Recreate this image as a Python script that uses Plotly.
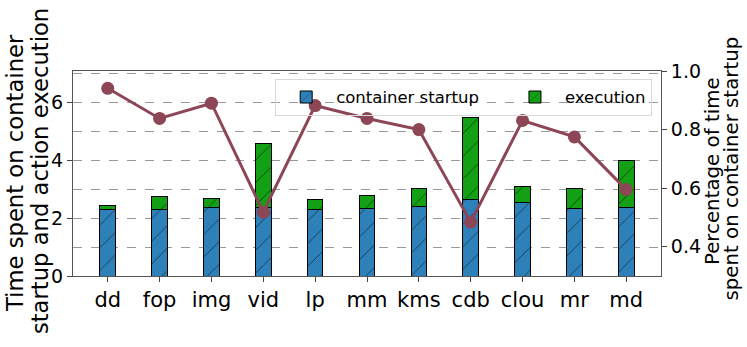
import plotly.graph_objects as go

apps = ["dd", "fop", "img", "vid", "lp", "mm", "kms", "cdb", "clou", "mr", "md"]
startup = [2.30, 2.30, 2.37, 2.37, 2.30, 2.33, 2.41, 2.64, 2.56, 2.33, 2.37]
total = [2.45, 2.76, 2.67, 4.60, 2.64, 2.80, 3.03, 5.50, 3.11, 3.03, 4.00]
execution = [t - s for t, s in zip(total, startup)]
startup_pct = [0.941, 0.838, 0.890, 0.518, 0.882, 0.838, 0.800, 0.484, 0.831, 0.775, 0.595]

FONT = "DejaVu Sans"
x = list(range(len(apps)))

fig = go.Figure()

fig.add_trace(
    go.Bar(
        x=x,
        y=startup,
        name="container startup\u00a0\u00a0\u00a0\u00a0",
        width=0.3,
        marker=dict(
            color="#2e80b8",
            line=dict(color="black", width=1),
            pattern=dict(shape="/", fgcolor="black", size=16, solidity=0.06),
        ),
    )
)
fig.add_trace(
    go.Bar(
        x=x,
        y=execution,
        name="execution",
        width=0.3,
        marker=dict(
            color="#14a014",
            line=dict(color="black", width=1),
            pattern=dict(shape="/", fgcolor="black", size=16, solidity=0.06),
        ),
    )
)
fig.add_trace(
    go.Scatter(
        x=x,
        y=startup_pct,
        yaxis="y2",
        mode="lines+markers",
        line=dict(color="#8c4656", width=3),
        marker=dict(color="#8c4656", size=13),
        showlegend=False,
    )
)

# white box behind the legend so the grid doesn't show through
fig.add_shape(
    type="rect",
    xref="paper",
    yref="paper",
    x0=0.345,
    x1=0.985,
    y0=0.815,
    y1=0.962,
    fillcolor="white",
    line=dict(width=0),
    layer="between",
)

# axis titles, one annotation per line (left and right)
titles = [
    ("Time spent on container", -0.0994, 0.500, 22.7),
    ("startup and action execution", -0.056, 0.512, 22.7),
    ("Percentage of time", 1.0867, 0.512, 19.8),
    ("spent on container startup", 1.1199, 0.522, 19.8),
]
for line, xpos, ypos, size in titles:
    fig.add_annotation(
        text=line,
        xref="paper",
        yref="paper",
        x=xpos,
        y=ypos,
        xanchor="center",
        yanchor="middle",
        textangle=-90,
        showarrow=False,
        font=dict(size=size),
    )

fig.update_layout(
    width=747,
    height=347,
    barmode="stack",
    plot_bgcolor="white",
    paper_bgcolor="white",
    font=dict(family=FONT, color="black"),
    margin=dict(l=73, r=86, t=71, b=71),
    legend=dict(
        orientation="h",
        traceorder="normal",
        x=0.985,
        xanchor="right",
        y=0.962,
        yanchor="top",
        bgcolor="rgba(255,255,255,0)",
        bordercolor="#d9d9d9",
        borderwidth=1,
        font=dict(size=16.5),
        itemwidth=50,
    ),
    xaxis=dict(
        tickmode="array",
        tickvals=x,
        ticktext=apps,
        range=[-0.67, 10.67],
        tickfont=dict(size=21),
        ticks="outside",
        ticklen=5,
        showline=True,
        linecolor="#555555",
        mirror=True,
        showgrid=False,
        automargin=False,
    ),
    yaxis=dict(
        range=[0, 7.1],
        dtick=2,
        tickfont=dict(size=19),
        ticks="outside",
        ticklen=5,
        showline=True,
        linecolor="#555555",
        mirror=True,
        showgrid=True,
        gridcolor="#999999",
        griddash="dash",
        zeroline=False,
        automargin=False,
        minor=dict(dtick=1, showgrid=True, gridcolor="#999999", griddash="dash"),
    ),
    yaxis2=dict(
        overlaying="y",
        side="right",
        range=[0.30, 1.0],
        tickvals=[0.4, 0.6, 0.8, 1.0],
        ticktext=["0.4", "0.6", "0.8", "1.0"],
        tickfont=dict(size=19),
        ticks="outside",
        ticklen=5,
        showgrid=False,
        zeroline=False,
        automargin=False,
    ),
)

fig.write_html(
    "out.html",
    config={"displayModeBar": False},
    post_script="document.body.style.margin='0';",
)
